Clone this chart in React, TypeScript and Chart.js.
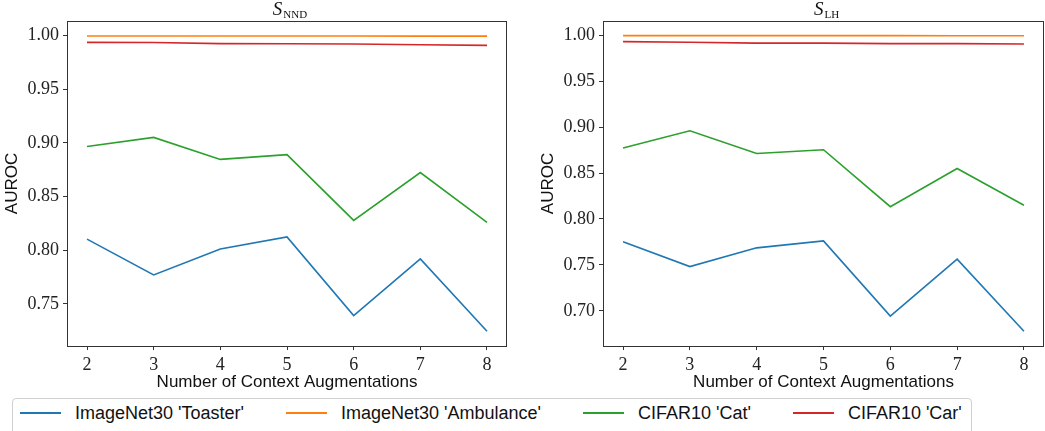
import React, { useEffect, useRef } from "react";
import { Chart, registerables } from "chart.js";

Chart.register(...registerables);

// ---- data ----
const augmentations = [2, 3, 4, 5, 6, 7, 8];
const seriesNames = ["ImageNet30 'Toaster'", "ImageNet30 'Ambulance'", "CIFAR10 'Cat'", "CIFAR10 'Car'"];
const seriesColors = ["#1f77b4", "#ff7f0e", "#2ca02c", "#d62728"];

const nndToaster = [0.8104, 0.777, 0.8012, 0.8125, 0.7392, 0.792, 0.7245];
const nndAmbulance = [0.9997, 0.9997, 0.9997, 0.9997, 0.9997, 0.9996, 0.9996];
const nndCat = [0.8968, 0.9052, 0.8847, 0.8892, 0.8279, 0.8724, 0.8261];
const nndCar = [0.9938, 0.9937, 0.9926, 0.9925, 0.9922, 0.9915, 0.991];

const lhToaster = [0.7751, 0.7482, 0.7686, 0.7762, 0.6942, 0.7562, 0.6778];
const lhAmbulance = [0.9997, 0.9997, 0.9997, 0.9997, 0.9997, 0.9996, 0.9996];
const lhCat = [0.8773, 0.896, 0.8714, 0.8754, 0.8134, 0.855, 0.815];
const lhCar = [0.9931, 0.9925, 0.9915, 0.9915, 0.991, 0.991, 0.9906];

const nndYTicks = [0.75, 0.8, 0.85, 0.9, 0.95, 1.0];
const lhYTicks = [0.7, 0.75, 0.8, 0.85, 0.9, 0.95, 1.0];
const xTicks = [2, 3, 4, 5, 6, 7, 8];

const nndYRange = [0.7108, 1.0137];
const lhYRange = [0.6617, 1.0156];
const xRange = [1.7, 8.3];

const xLabel = "Number of Context Augmentations";
const yLabel = "AUROC";

const SERIF = '"Liberation Serif", "DejaVu Serif", serif';
const SANS = '"Liberation Sans", "DejaVu Sans", sans-serif';

const CANVAS_H = 393;

const boxPlugin = {
  id: "boxAndTitle",
  afterDraw(chart: any, _args: any, opts: any) {
    const { ctx, chartArea } = chart;
    ctx.save();
    ctx.strokeStyle = "#333";
    ctx.lineWidth = 1;
    ctx.strokeRect(
      Math.round(chartArea.left) + 0.5,
      Math.round(chartArea.top) + 0.5,
      Math.round(chartArea.right - chartArea.left) - 1,
      Math.round(chartArea.bottom - chartArea.top)
    );
    // title: script S with subscript
    const main = opts.main as string;
    const sub = opts.sub as string;
    ctx.fillStyle = "#111";
    ctx.textBaseline = "alphabetic";
    ctx.font = `italic 19px ${SERIF}`;
    const wMain = ctx.measureText(main).width;
    ctx.font = `11px ${SERIF}`;
    const wSub = ctx.measureText(sub).width;
    const cx = (chartArea.left + chartArea.right) / 2 + 3;
    const x0 = cx - (wMain + wSub + 1) / 2;
    ctx.font = `italic 19px ${SERIF}`;
    ctx.textAlign = "left";
    ctx.fillText(main, x0, 15);
    ctx.font = `11px ${SERIF}`;
    ctx.fillText(sub, x0 + wMain + 1, 17.5);
    ctx.restore();
  },
};

function makeConfig(
  series: number[][],
  yTicks: number[],
  yRange: number[],
  title: { main: string; sub: string },
  rightPad: number
): any {
  return {
    type: "line",
    data: {
      datasets: series.map((vals, i) => ({
        label: seriesNames[i],
        data: augmentations.map((x, j) => ({ x, y: vals[j] })),
        borderColor: seriesColors[i],
        backgroundColor: seriesColors[i],
        borderWidth: 1.6,
        pointRadius: 0,
        tension: 0,
        fill: false,
        order: series.length - i,
      })),
    },
    options: {
      animation: false,
      responsive: false,
      maintainAspectRatio: false,
      layout: { padding: { top: 21, right: rightPad, left: 0, bottom: 0 } },
      plugins: {
        legend: { display: false },
        tooltip: { enabled: false },
        boxAndTitle: title,
      },
      scales: {
        x: {
          type: "linear",
          min: xRange[0],
          max: xRange[1],
          afterBuildTicks: (s: any) => {
            s.ticks = xTicks.map((v) => ({ value: v }));
          },
          afterFit: (s: any) => {
            s.height = CANVAS_H - 346;
          },
          ticks: {
            color: "#222",
            font: { family: SERIF, size: 18 },
            padding: 4,
            maxRotation: 0,
            autoSkip: false,
            callback: (v: number) => String(v),
          },
          grid: { drawOnChartArea: false, drawTicks: true, tickLength: 4, color: "#333" },
          border: { display: false },
          title: {
            display: true,
            text: xLabel,
            color: "#111",
            font: { family: SANS, size: 17 },
            padding: { top: 0, bottom: 0 },
          },
        },
        y: {
          type: "linear",
          min: yRange[0],
          max: yRange[1],
          afterBuildTicks: (s: any) => {
            s.ticks = yTicks.map((v) => ({ value: v }));
          },
          afterFit: (s: any) => {
            s.width = 67;
          },
          ticks: {
            color: "#222",
            font: { family: SERIF, size: 18 },
            padding: 4,
            autoSkip: false,
            callback: (v: number) => Number(v).toFixed(2),
          },
          grid: { drawOnChartArea: false, drawTicks: true, tickLength: 4, color: "#333" },
          border: { display: false },
          title: {
            display: true,
            text: yLabel,
            color: "#111",
            font: { family: SANS, size: 17 },
            padding: { top: 2, bottom: 0 },
          },
        },
      },
    },
    plugins: [boxPlugin],
  };
}

function Panel(props: {
  left: number;
  width: number;
  series: number[][];
  yTicks: number[];
  yRange: number[];
  title: { main: string; sub: string };
  rightPad: number;
}) {
  const ref = useRef<HTMLCanvasElement | null>(null);
  useEffect(() => {
    if (!ref.current) return;
    const chart = new Chart(
      ref.current,
      makeConfig(props.series, props.yTicks, props.yRange, props.title, props.rightPad)
    );
    return () => chart.destroy();
  }, []);
  return (
    <canvas
      ref={ref}
      width={props.width}
      height={CANVAS_H}
      style={{ position: "absolute", left: props.left, top: 0, width: props.width, height: CANVAS_H }}
    />
  );
}

export default function App() {
  return (
    <div
      style={{
        position: "fixed",
        left: 0,
        top: 0,
        width: 1045,
        height: 431,
        overflow: "hidden",
        background: "#fff",
      }}
    >
      <Panel
        left={0}
        width={515}
        series={[nndToaster, nndAmbulance, nndCat, nndCar]}
        yTicks={nndYTicks}
        yRange={nndYRange}
        title={{ main: "S", sub: "NND" }}
        rightPad={8}
      />
      <Panel
        left={536}
        width={509}
        series={[lhToaster, lhAmbulance, lhCat, lhCar]}
        yTicks={lhYTicks}
        yRange={lhYRange}
        title={{ main: "S", sub: "LH" }}
        rightPad={1}
      />
      <div
        style={{
          position: "absolute",
          left: 12,
          top: 398,
          width: 960,
          height: 44,
          border: "1px solid #d0d0d0",
          borderRadius: 4,
          boxSizing: "border-box",
          display: "flex",
          alignItems: "flex-start",
          paddingLeft: 7,
          paddingTop: 1,
          fontFamily: SANS,
          fontSize: 18,
          color: "#111",
        }}
      >
        {seriesNames.map((name, i) => (
          <div
            key={name}
            style={{ display: "flex", alignItems: "center", marginRight: 42, height: 26 }}
          >
            <div style={{ width: 41, height: 2, background: seriesColors[i], marginRight: 14 }} />
            <span style={{ whiteSpace: "nowrap" }}>{name}</span>
          </div>
        ))}
      </div>
    </div>
  );
}
